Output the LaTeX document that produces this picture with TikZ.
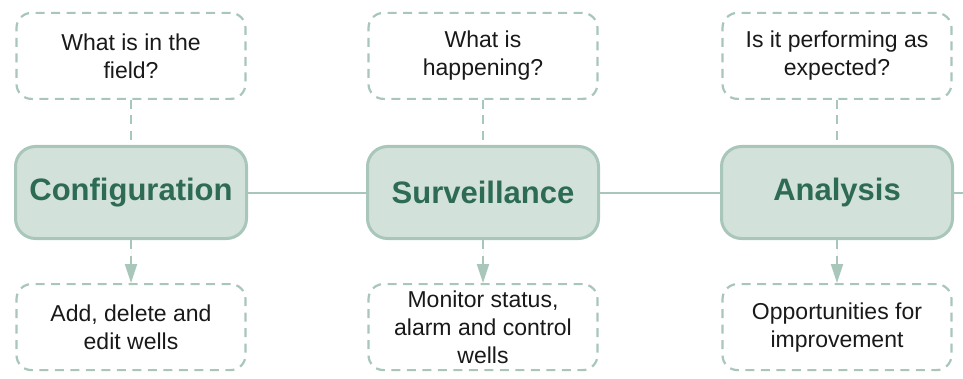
\documentclass[tikz,border=0pt]{standalone}
\usepackage{fontspec}
\setmainfont{Liberation Sans}
\usetikzlibrary{positioning}
\usetikzlibrary{arrows.meta}
\definecolor{stagefill}{RGB}{211,225,219}
\definecolor{stageedge}{RGB}{168,198,186}
\definecolor{stagetext}{RGB}{46,107,85}
\definecolor{notetext}{RGB}{25,25,25}
\tikzset{stage/.style={rectangle, rounded corners=20pt, draw=stageedge, line width=3pt,
fill=stagefill, text=stagetext, minimum width=231pt, minimum height=92pt,
font=\fontsize{31}{31}\selectfont\bfseries},
note/.style={rectangle, rounded corners=15pt, draw=stageedge, line width=2.2pt,
dash pattern=on 9pt off 6.5pt, align=center, inner sep=2pt, text=notetext,
minimum width=229pt, minimum height=86pt, font=\fontsize{23}{28}\selectfont},
link/.style={draw=stageedge, line width=2pt},
dashlink/.style={link, line width=2.2pt, dash pattern=on 9pt off 6.5pt},
>={Triangle[length=19pt,width=12pt]}}

\begin{document}
\begin{tikzpicture}[x=1pt,y=1pt]
  \useasboundingbox (0,0) rectangle (963,378);
  \node (config) [stage] at (131,185.5) {Configuration};
  \node (surv) [stage,right=118pt of config] {Surveillance};
  \node (anal) [stage,right=120pt of surv] {Analysis};
  \coordinate (rim) at (963,185.5);

  \node (configq) [note,above=45pt of config] {What is in the\\field?};
  \node (survq) [note,above=45pt of surv] {What is\\happening?};
  \node (analq) [note,above=45pt of anal] {Is it performing as\\expected?};

  \node (configa) [note,below=43pt of config] {Add, delete and\\edit wells};
  \node (surva) [note,below=43pt of surv] {Monitor status,\\alarm and control\\wells};
  \node (anala) [note,below=43pt of anal] {Opportunities for\\improvement};

  \draw [link] (config) -- (surv);
  \draw [link] (surv) -- (anal);
  \draw [link] (anal) -- (rim);

  \draw [dashlink] (configq) -- (config);
  \draw [dashlink] (survq) -- (surv);
  \draw [dashlink] (analq) -- (anal);
  \draw [dashlink,->,fill=stageedge] (config) -- (configa);
  \draw [dashlink,->,fill=stageedge] (surv) -- (surva);
  \draw [dashlink,->,fill=stageedge] (anal) -- (anala);
\end{tikzpicture}
\end{document}
